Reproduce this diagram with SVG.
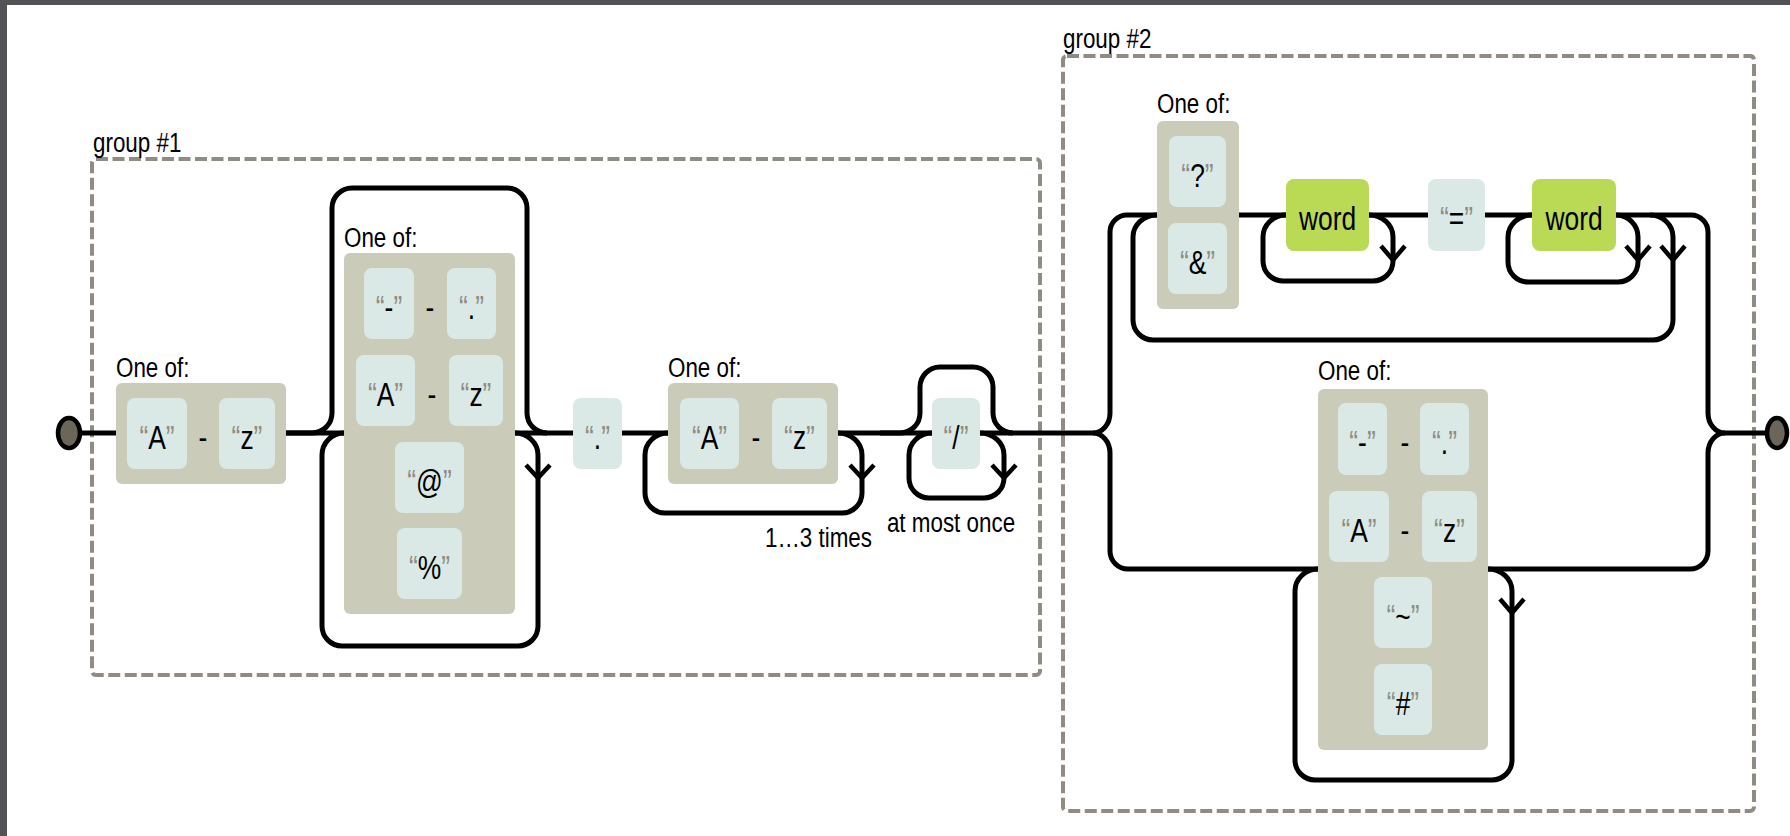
<svg xmlns="http://www.w3.org/2000/svg" width="1790" height="836" viewBox="0 0 1790 836">
<style>
.bg{fill:#fff}
.frame{fill:#525257}
.grp{fill:none;stroke:#908c83;stroke-width:4;stroke-dasharray:12 4.5}
.cs{fill:#cbcbba}
.lit{fill:#dae9e5}
.esc{fill:#bada55}
.c{fill:none;stroke:#000;stroke-width:5;stroke-linecap:butt}
.arr{fill:none;stroke:#000;stroke-width:4.5}
.pt{fill:#6b6659;stroke:#000;stroke-width:4.5}
text{font-family:"Liberation Sans",Arial,sans-serif;fill:#000}
.t{font-size:33px;text-anchor:middle}
.lbl{font-size:28px}
.mid{text-anchor:middle}
.end{text-anchor:end}
.q{fill:#908c83}
</style>
<rect class="bg" x="0" y="0" width="1790" height="836"/>
<rect class="frame" x="0" y="0" width="1790" height="5"/>
<rect class="frame" x="0" y="0" width="7" height="836"/>

<g id="group1">
<rect class="grp" x="92" y="159" width="948" height="516" rx="4"/>
<text class="lbl" transform="translate(93,152) scale(0.8,1)">group #1</text>
</g>
<g id="group2">
<rect class="grp" x="1063" y="56" width="691" height="755" rx="4"/>
<text class="lbl" transform="translate(1063,48) scale(0.8,1)">group #2</text>
</g>

<g id="connectors">
<path class="c" d="M80,433 H116 M286,433 H573 M622,433 H668 M838,433 H932 M980,433 H1093"/>
<path class="c" d="M286,433 H312 A20,20 0 0 0 332,413 V208 A20,20 0 0 1 352,188 H507 A20,20 0 0 1 527,208 V413 A20,20 0 0 0 547,433"/>
<path class="c" d="M515,433 A23,22 0 0 1 538,455 V626 A20,20 0 0 1 518,646 H342 A20,20 0 0 1 322,626 V455 A22,22 0 0 1 344,433"/>
<path class="arr" d="M526,465 L538,478 L550,465"/>
<path class="c" d="M838,433 A24,22 0 0 1 862,455 V493 A20,20 0 0 1 842,513 H665 A20,20 0 0 1 645,493 V455 A23,22 0 0 1 668,433"/>
<path class="arr" d="M850,465 L862,478 L874,465"/>
<path class="c" d="M880,433 H900 A20,20 0 0 0 920,413 V387 A20,20 0 0 1 940,367 H973 A20,20 0 0 1 993,387 V413 A20,20 0 0 0 1013,433"/>
<path class="c" d="M980,433 A24,22 0 0 1 1004,455 V478 A20,20 0 0 1 984,498 H929 A20,20 0 0 1 909,478 V455 A23,22 0 0 1 932,433"/>
<path class="arr" d="M992,465 L1004,478 L1016,465"/>
<path class="c" d="M1093,433 A17,20 0 0 0 1110,413 V232 A17,17 0 0 1 1127,215 H1157"/>
<path class="c" d="M1093,433 A17,20 0 0 1 1110,453 V551 A18,18 0 0 0 1128,569 H1318"/>
<path class="c" d="M1239,215 H1286 M1369,215 H1428 M1485,215 H1532 M1616,215 H1691 A17,17 0 0 1 1708,232 V413 A17,20 0 0 0 1725,433 H1767"/>
<path class="c" d="M1488,569 H1690 A18,18 0 0 0 1708,551 V453 A17,20 0 0 1 1725,433"/>
<path class="c" d="M1650,215 A23,22 0 0 1 1673,237 V320 A20,20 0 0 1 1653,340 H1153 A20,20 0 0 1 1133,320 V237 A24,22 0 0 1 1157,215"/>
<path class="arr" d="M1661,246 L1673,260 L1685,246"/>
<path class="c" d="M1369,215 A24,22 0 0 1 1393,237 V261 A20,20 0 0 1 1373,281 H1283 A20,20 0 0 1 1263,261 V237 A23,22 0 0 1 1286,215"/>
<path class="arr" d="M1381,246 L1393,260 L1405,246"/>
<path class="c" d="M1616,215 A22,22 0 0 1 1638,237 V262 A20,20 0 0 1 1618,282 H1528 A20,20 0 0 1 1508,262 V237 A24,22 0 0 1 1532,215"/>
<path class="arr" d="M1626,246 L1638,260 L1650,246"/>
<path class="c" d="M1488,569 A24,22 0 0 1 1512,591 V760 A20,20 0 0 1 1492,780 H1315 A20,20 0 0 1 1295,760 V591 A23,22 0 0 1 1318,569"/>
<path class="arr" d="M1500,599 L1512,613 L1524,599"/>
</g>

<g id="start"><ellipse class="pt" cx="69" cy="433" rx="11" ry="15"/></g>
<g id="end"><ellipse class="pt" cx="1777" cy="433" rx="10" ry="15"/></g>

<g id="charset1">
<text class="lbl" transform="translate(116,377) scale(0.8,1)">One of:</text>
<rect class="cs" x="116" y="383" width="170" height="101" rx="6"/>
<rect class="lit" x="127" y="398" width="60" height="71" rx="8"/>
<text class="t" transform="translate(157,449) scale(0.8,1)"><tspan class="q">“</tspan>A<tspan class="q">”</tspan></text>
<text class="t" transform="translate(203,449) scale(0.8,1)">-</text>
<rect class="lit" x="219" y="398" width="56" height="71" rx="8"/>
<text class="t" transform="translate(247,449) scale(0.8,1)"><tspan class="q">“</tspan>z<tspan class="q">”</tspan></text>
</g>

<g id="charset2">
<text class="lbl" transform="translate(344,247) scale(0.8,1)">One of:</text>
<rect class="cs" x="344" y="253" width="171" height="361" rx="6"/>
<rect class="lit" x="364" y="268" width="50" height="71" rx="8"/>
<text class="t" transform="translate(389,319) scale(0.8,1)"><tspan class="q">“</tspan>-<tspan class="q">”</tspan></text>
<text class="t" transform="translate(430,319) scale(0.8,1)">-</text>
<rect class="lit" x="447" y="268" width="49" height="71" rx="8"/>
<text class="t" transform="translate(471.5,319) scale(0.8,1)"><tspan class="q">“</tspan>.<tspan class="q">”</tspan></text>
<rect class="lit" x="356" y="355" width="59" height="71" rx="8"/>
<text class="t" transform="translate(385.5,406) scale(0.8,1)"><tspan class="q">“</tspan>A<tspan class="q">”</tspan></text>
<text class="t" transform="translate(432,406) scale(0.8,1)">-</text>
<rect class="lit" x="449" y="355" width="54" height="71" rx="8"/>
<text class="t" transform="translate(476,406) scale(0.8,1)"><tspan class="q">“</tspan>z<tspan class="q">”</tspan></text>
<rect class="lit" x="395" y="442" width="69" height="71" rx="8"/>
<text class="t" transform="translate(429.5,493) scale(0.8,1)"><tspan class="q">“</tspan>@<tspan class="q">”</tspan></text>
<rect class="lit" x="397" y="528" width="65" height="71" rx="8"/>
<text class="t" transform="translate(429.5,579) scale(0.8,1)"><tspan class="q">“</tspan>%<tspan class="q">”</tspan></text>
</g>

<g id="dot">
<rect class="lit" x="573" y="398" width="49" height="71" rx="8"/>
<text class="t" transform="translate(597.5,449) scale(0.8,1)"><tspan class="q">“</tspan>.<tspan class="q">”</tspan></text>
</g>

<g id="charset3">
<text class="lbl" transform="translate(668,377) scale(0.8,1)">One of:</text>
<rect class="cs" x="668" y="383" width="170" height="101" rx="6"/>
<rect class="lit" x="680" y="398" width="59" height="71" rx="8"/>
<text class="t" transform="translate(709.5,449) scale(0.8,1)"><tspan class="q">“</tspan>A<tspan class="q">”</tspan></text>
<text class="t" transform="translate(756,449) scale(0.8,1)">-</text>
<rect class="lit" x="772" y="398" width="55" height="71" rx="8"/>
<text class="t" transform="translate(799.5,449) scale(0.8,1)"><tspan class="q">“</tspan>z<tspan class="q">”</tspan></text>
<text class="lbl end" transform="translate(872,547) scale(0.8,1)">1…3 times</text>
</g>

<g id="slash">
<rect class="lit" x="932" y="398" width="48" height="71" rx="8"/>
<text class="t" transform="translate(956,449) scale(0.8,1)"><tspan class="q">“</tspan>/<tspan class="q">”</tspan></text>
<text class="lbl mid" transform="translate(951,532) scale(0.8,1)">at most once</text>
</g>

<g id="charset4">
<text class="lbl" transform="translate(1157,113) scale(0.8,1)">One of:</text>
<rect class="cs" x="1157" y="121" width="82" height="188" rx="6"/>
<rect class="lit" x="1169" y="136" width="57" height="71" rx="8"/>
<text class="t" transform="translate(1197.5,187) scale(0.8,1)"><tspan class="q">“</tspan>?<tspan class="q">”</tspan></text>
<rect class="lit" x="1168" y="223" width="59" height="71" rx="8"/>
<text class="t" transform="translate(1197.5,274) scale(0.8,1)"><tspan class="q">“</tspan>&amp;<tspan class="q">”</tspan></text>
</g>

<g id="word1">
<rect class="esc" x="1286" y="179" width="83" height="72" rx="8"/>
<text class="t" transform="translate(1327.5,230) scale(0.8,1)">word</text>
</g>

<g id="equals">
<rect class="lit" x="1428" y="179" width="57" height="72" rx="8"/>
<text class="t" transform="translate(1456.5,230) scale(0.8,1)"><tspan class="q">“</tspan>=<tspan class="q">”</tspan></text>
</g>

<g id="word2">
<rect class="esc" x="1532" y="179" width="84" height="72" rx="8"/>
<text class="t" transform="translate(1574,230) scale(0.8,1)">word</text>
</g>

<g id="charset5">
<text class="lbl" transform="translate(1318,380) scale(0.8,1)">One of:</text>
<rect class="cs" x="1318" y="389" width="170" height="361" rx="6"/>
<rect class="lit" x="1338" y="403" width="49" height="72" rx="8"/>
<text class="t" transform="translate(1362.5,454) scale(0.8,1)"><tspan class="q">“</tspan>-<tspan class="q">”</tspan></text>
<text class="t" transform="translate(1405,454) scale(0.8,1)">-</text>
<rect class="lit" x="1420" y="403" width="49" height="72" rx="8"/>
<text class="t" transform="translate(1444.5,454) scale(0.8,1)"><tspan class="q">“</tspan>.<tspan class="q">”</tspan></text>
<rect class="lit" x="1329" y="491" width="60" height="71" rx="8"/>
<text class="t" transform="translate(1359,542) scale(0.8,1)"><tspan class="q">“</tspan>A<tspan class="q">”</tspan></text>
<text class="t" transform="translate(1405,542) scale(0.8,1)">-</text>
<rect class="lit" x="1422" y="491" width="55" height="71" rx="8"/>
<text class="t" transform="translate(1449.5,542) scale(0.8,1)"><tspan class="q">“</tspan>z<tspan class="q">”</tspan></text>
<rect class="lit" x="1374" y="577" width="58" height="71" rx="8"/>
<text class="t" transform="translate(1403,628) scale(0.8,1)"><tspan class="q">“</tspan>~<tspan class="q">”</tspan></text>
<rect class="lit" x="1374" y="664" width="58" height="71" rx="8"/>
<text class="t" transform="translate(1403,715) scale(0.8,1)"><tspan class="q">“</tspan>#<tspan class="q">”</tspan></text>
</g>
</svg>
